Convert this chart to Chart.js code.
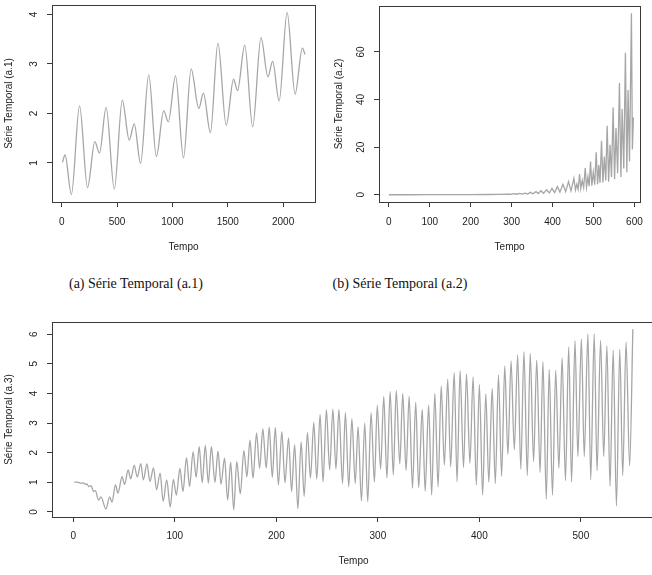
<!DOCTYPE html>
<html>
<head>
<meta charset="utf-8">
<script src="https://cdn.jsdelivr.net/npm/chart.js@4.4.1/dist/chart.umd.min.js"></script>
<style>
  html, body { margin: 0; padding: 0; background: #fff; width: 652px; height: 575px; overflow: hidden; }
  .panel { position: absolute; }
  .caption { position: absolute; font-family: "Liberation Serif", serif; font-size: 14px; color: #111; white-space: nowrap; transform: translate(-50%, -50%); }
</style>
</head>
<body>
<div class="panel" style="left:0;top:0"><canvas id="chartA" width="317" height="260"></canvas></div>
<div class="panel" style="left:326px;top:0"><canvas id="chartB" width="326" height="260"></canvas></div>
<div class="panel" style="left:0;top:300px"><canvas id="chartC" width="660" height="275"></canvas></div>
<div class="caption" style="left:136px;top:284px">(a) Série Temporal (a.1)</div>
<div class="caption" style="left:400px;top:284px">(b) Série Temporal (a.2)</div>

<script>
// Série (a.1): picos e vales
const tempoA = [6, 30, 87, 161, 233, 299, 341, 401, 475, 547, 610, 655, 712, 786, 855, 921, 963, 1028, 1100, 1169, 1238, 1280, 1343, 1411, 1486, 1552, 1588, 1653, 1725, 1800, 1863, 1905, 1964, 2036, 2108, 2174, 2198];
const serieA = [1.01, 1.16, 0.36, 2.15, 0.50, 1.43, 1.20, 2.12, 0.47, 2.27, 1.46, 1.79, 0.99, 2.78, 1.13, 2.05, 1.83, 2.76, 1.10, 2.90, 2.10, 2.41, 1.61, 3.42, 1.76, 2.69, 2.46, 3.38, 1.73, 3.53, 2.74, 3.05, 2.25, 4.04, 2.39, 3.32, 3.19];

// Série (a.2)
const tempoB = [0, 50, 100, 150, 200, 240, 270, 292, 299, 305, 312, 319, 326, 333, 339, 346, 352, 359.6, 365, 371.8, 378, 385.6, 392, 398.6, 405, 411.6, 418, 425.4, 432, 439, 445, 452.2, 456, 459.5, 462.5, 466, 469, 472.5, 476, 479.8, 483, 486.5, 489.5, 492.8, 496, 499.5, 503, 506.6, 510, 513, 516, 519.6, 523, 526.5, 530, 533.4, 537, 540.5, 544, 548, 551.5, 555, 559, 563.4, 567, 570, 574, 578, 581.5, 584.5, 588, 592.7, 595, 597.5];
const serieB = [0, 0, 0.01, 0.03, 0.06, 0.1, 0.18, 0.3, 0.2, 0.45, 0.22, 0.55, 0.25, 0.7, 0.3, 1.0, 0.4, 1.3, 0.5, 1.7, 0.6, 2.1, 0.75, 2.7, 0.9, 3.4, 1.1, 4.4, 1.3, 5.5, 1.6, 6.9, 2.0, 4.5, 2.3, 8.7, 2.6, 6.0, 3.0, 11.2, 3.2, 7.5, 3.6, 14.0, 3.8, 9.5, 4.2, 17.8, 4.4, 12.5, 5.0, 22.7, 5.2, 16.0, 6.0, 29.0, 5.5, 21.0, 7.5, 36.7, 6.5, 28.0, 9.0, 46.9, 7.5, 36.0, 11.0, 59.7, 9.5, 44.0, 14.0, 76.2, 19.0, 32.5];

// Série (a.3)
const tempoC = [1, 4, 7.6, 10, 11.8, 13.5, 15, 17.4, 20, 21.7, 24.9, 27.2, 32.1, 35.8, 38.1, 41.5, 44, 48, 50.5, 54, 56.5, 60, 63, 66.5, 69, 72.5, 75.5, 79, 82, 85.5, 88.5, 92, 95.5, 98.5, 101.5, 105, 108, 111.5, 114.5, 118, 121, 124, 127, 130, 133, 136, 139.5, 142.5, 145.5, 149, 152, 155, 158, 161, 164.5, 168, 171, 174, 177, 180.5, 183.5, 186.7, 190, 193, 196, 199, 202, 205.4, 208.5, 212, 215, 218, 221.2, 224.4, 227.4, 230.6, 233.6, 236.9, 239.8, 243.1, 246, 249.3, 252.5, 255.7, 258.7, 261.6, 265.2, 268, 271.3, 274.4, 277.7, 280.5, 283.8, 287.1, 290, 293.3, 296.6, 299.4, 302.7, 305.8, 308.9, 312.1, 315.2, 318.1, 321.6, 324.5, 327.8, 330.8, 334.1, 337.3, 340.2, 343.7, 346.6, 350, 353, 356.1, 359.3, 362.4, 365.5, 368.8, 371.7, 375.2, 378, 381, 384.4, 387.3, 390.7, 393.8, 397, 400, 403.2, 406.3, 409.3, 412.6, 415.7, 418.8, 421.9, 425, 428.1, 431.2, 434.4, 437.7, 440.8, 443.9, 447.2, 450.1, 453.4, 456.5, 459.8, 462.6, 465.9, 468.8, 472, 475.2, 478.3, 481.5, 484.8, 488, 490.8, 494.2, 497, 500.5, 503.3, 506.9, 509.7, 513.1, 515.9, 519.4, 522.5, 525.6, 528.7, 531.8, 535, 538.3, 541.2, 544.5, 548, 551.2];
const serieC = [1.00, 1.01, 0.97, 0.98, 0.93, 0.95, 0.86, 0.89, 0.69, 0.72, 0.40, 0.51, 0.10, 0.51, 0.33, 0.91, 0.64, 1.19, 0.93, 1.42, 1.12, 1.57, 1.18, 1.63, 1.08, 1.62, 1.03, 1.49, 0.75, 1.31, 0.36, 1.08, 0.16, 1.10, 0.57, 1.47, 0.69, 1.83, 0.86, 2.03, 1.17, 2.20, 0.99, 2.25, 0.97, 2.20, 1.00, 2.05, 0.94, 1.82, 0.40, 1.68, 0.07, 1.70, 0.61, 2.07, 1.19, 2.42, 1.14, 2.66, 1.47, 2.80, 1.48, 2.86, 1.17, 2.85, 0.91, 2.71, 0.99, 2.50, 0.69, 2.27, 0.11, 2.36, 0.53, 2.68, 1.14, 3.02, 1.11, 3.29, 1.01, 3.45, 1.42, 3.47, 1.45, 3.46, 0.96, 3.35, 0.85, 3.15, 0.96, 2.88, 0.37, 3.00, 0.35, 3.35, 1.01, 3.60, 1.44, 3.90, 1.15, 4.07, 1.25, 4.10, 1.62, 4.00, 1.40, 3.90, 0.80, 3.70, 0.82, 3.46, 0.70, 3.61, 0.57, 4.00, 0.85, 4.25, 1.58, 4.48, 1.53, 4.71, 1.02, 4.77, 1.50, 4.66, 1.64, 4.56, 0.91, 4.30, 0.57, 3.98, 1.00, 4.17, 0.96, 4.62, 1.20, 4.93, 1.94, 5.10, 2.10, 5.30, 1.45, 5.41, 1.23, 5.35, 1.70, 5.12, 1.33, 5.06, 0.43, 4.81, 0.57, 4.78, 1.47, 5.20, 1.06, 5.57, 1.01, 5.78, 1.87, 5.84, 1.87, 6.01, 1.09, 6.01, 1.39, 5.79, 1.87, 5.60, 0.87, 5.46, 0.20, 5.48, 1.23, 5.73, 1.56, 6.17];

const xTicksA = [0, 500, 1000, 1500, 2000];
const yTicksA = [1, 2, 3, 4];
const xTicksB = [0, 100, 200, 300, 400, 500, 600];
const yTicksB = [0, 20, 40, 60];
const xTicksC = [0, 100, 200, 300, 400, 500];
const yTicksC = [0, 1, 2, 3, 4, 5, 6];

const lineColor = "#a6a6a6";
const axisColor = "#3a3a3a";
const textColor = "#222";
const axisFont = { family: "Liberation Sans", size: 10 };

// caixa do gráfico e rótulos do eixo y girados, como no R
const rPlotBox = {
    id: "rPlotBox",
    afterDraw(chart) {
        const { ctx, chartArea: a } = chart;
        const y = chart.scales.y;
        ctx.save();
        ctx.strokeStyle = axisColor;
        ctx.lineWidth = 1;
        ctx.strokeRect(Math.round(a.left) + 0.5, Math.round(a.top) + 0.5,
            Math.round(a.right - a.left), Math.round(a.bottom - a.top));
        ctx.fillStyle = textColor;
        ctx.font = "10px 'Liberation Sans'";
        ctx.textAlign = "center";
        ctx.textBaseline = "alphabetic";
        y.ticks.forEach(t => {
            ctx.save();
            ctx.translate(a.left - 15, y.getPixelForValue(t.value));
            ctx.rotate(-Math.PI / 2);
            ctx.fillText(String(t.value), 0, 0);
            ctx.restore();
        });
        ctx.restore();
    }
};

function drawPanel(canvasId, p) {
    const ctx = document.getElementById(canvasId).getContext("2d");
    return new Chart(ctx, {
        type: "line",
        data: {
            datasets: [{
                data: p.tempo.map((t, i) => ({ x: t, y: p.serie[i] })),
                borderColor: lineColor,
                borderWidth: 1.3,
                pointRadius: 0,
                tension: 0,
                cubicInterpolationMode: p.smooth ? "monotone" : "default"
            }]
        },
        options: {
            responsive: false,
            animation: false,
            events: [],
            layout: { padding: p.padding },
            plugins: { legend: { display: false }, tooltip: { enabled: false } },
            scales: {
                x: {
                    type: "linear",
                    min: p.xRange[0],
                    max: p.xRange[1],
                    afterBuildTicks: s => { s.ticks = p.xTicks.map(v => ({ value: v })); },
                    afterFit: s => { s.height = p.xHeight; },
                    grid: { drawOnChartArea: false, drawTicks: true, tickLength: 5, color: axisColor },
                    border: { display: true, color: axisColor },
                    ticks: { color: textColor, font: axisFont, padding: p.xLabelPad, maxRotation: 0, autoSkip: false, callback: v => String(v) },
                    title: { display: true, text: "Tempo", color: textColor, font: axisFont, padding: { top: 0, bottom: p.xTitlePad } }
                },
                y: {
                    type: "linear",
                    min: p.yRange[0],
                    max: p.yRange[1],
                    afterBuildTicks: s => { s.ticks = p.yTicks.map(v => ({ value: v })); },
                    afterFit: s => { s.width = p.yWidth; },
                    grid: { drawOnChartArea: false, drawTicks: true, tickLength: 5, color: axisColor },
                    border: { display: true, color: axisColor },
                    ticks: { display: false },
                    title: { display: true, text: p.yTitle, color: textColor, font: axisFont, padding: { top: p.yTitlePad, bottom: 0 } }
                }
            }
        },
        plugins: [rPlotBox]
    });
}

drawPanel("chartA", {
    tempo: tempoA, serie: serieA, smooth: true,
    xTicks: xTicksA, yTicks: yTicksA,
    xRange: [-88, 2288], yRange: [0.21, 4.19],
    padding: { top: 5, right: 2, left: 0, bottom: 0 },
    yWidth: 52, xHeight: 58, xLabelPad: 9, xTitlePad: 7, yTitlePad: 3.5,
    yTitle: "Série Temporal (a.1)"
});

drawPanel("chartB", {
    tempo: tempoB, serie: serieB, smooth: false,
    xTicks: xTicksB, yTicks: yTicksB,
    xRange: [-24, 614], yRange: [-3.05, 79.3],
    padding: { top: 6, right: 11, left: 0, bottom: 0 },
    yWidth: 53, xHeight: 58, xLabelPad: 9, xTitlePad: 7, yTitlePad: 7.3,
    yTitle: "Série Temporal (a.2)"
});

drawPanel("chartC", {
    tempo: tempoC, serie: serieC, smooth: true,
    xTicks: xTicksC, yTicks: yTicksC,
    xRange: [-21, 573], yRange: [-0.17, 6.41],
    padding: { top: 22, right: 5, left: 0, bottom: 0 },
    yWidth: 52, xHeight: 58, xLabelPad: 8.7, xTitlePad: 8, yTitlePad: 3.5,
    yTitle: "Série Temporal (a.3)"
});
</script>
</body>
</html>
